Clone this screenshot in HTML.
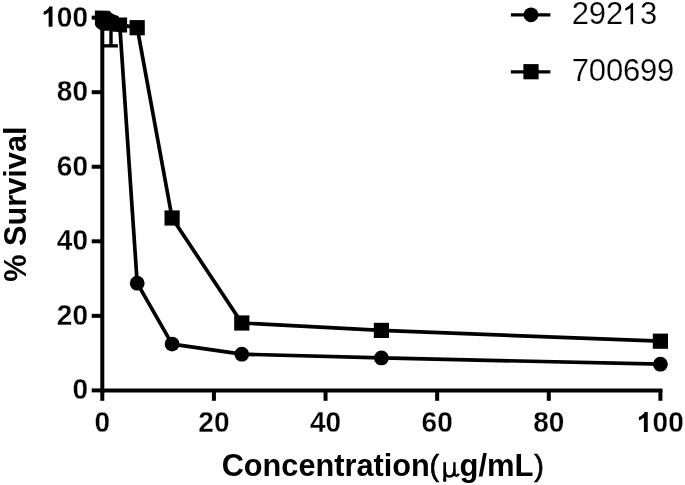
<!DOCTYPE html>
<html><head><meta charset="utf-8"><style>
html,body{margin:0;padding:0;background:#fff;}
body{width:685px;height:485px;overflow:hidden;}
svg{display:block;will-change:transform;}
text{font-family:"Liberation Sans",sans-serif;fill:#000;}
.tk{font-size:28px;font-weight:bold;stroke:#fff;stroke-width:0.25px;}
.lg{font-size:31px;stroke:#fff;stroke-width:0.2px;letter-spacing:-0.2px;}
.h{fill-opacity:0;stroke-opacity:0;}
.ti{font-size:31px;font-weight:bold;}
</style></head><body>
<svg width="685" height="485" viewBox="0 0 685 485">
<rect width="685" height="485" fill="#fff"/>
<g stroke="#000" stroke-width="4" fill="none" stroke-linecap="butt">
<line x1="102.3" y1="17.6" x2="102.3" y2="392.4"/>
<line x1="100.3" y1="390.4" x2="662.4" y2="390.4"/>
<line x1="91.7" y1="390.40" x2="102" y2="390.40"/>
<line x1="91.7" y1="315.85" x2="102" y2="315.85"/>
<line x1="91.7" y1="241.30" x2="102" y2="241.30"/>
<line x1="91.7" y1="166.75" x2="102" y2="166.75"/>
<line x1="91.7" y1="92.20" x2="102" y2="92.20"/>
<line x1="91.7" y1="17.65" x2="102" y2="17.65"/>
<line x1="102.30" y1="390" x2="102.30" y2="400.8"/>
<line x1="213.92" y1="390" x2="213.92" y2="400.8"/>
<line x1="325.54" y1="390" x2="325.54" y2="400.8"/>
<line x1="437.16" y1="390" x2="437.16" y2="400.8"/>
<line x1="548.78" y1="390" x2="548.78" y2="400.8"/>
<line x1="660.40" y1="390" x2="660.40" y2="400.8"/>
</g>
<text class="tk" transform="translate(88.00,399.40) scale(1,1.06)" text-anchor="end">0</text>
<text class="tk" transform="translate(88.00,324.85) scale(1,1.06)" text-anchor="end">20</text>
<text class="tk" transform="translate(88.00,250.30) scale(1,1.06)" text-anchor="end">40</text>
<text class="tk" transform="translate(88.00,175.75) scale(1,1.06)" text-anchor="end">60</text>
<text class="tk" transform="translate(88.00,101.20) scale(1,1.06)" text-anchor="end">80</text>
<text class="tk" transform="translate(88.00,26.65) scale(1,1.06)" text-anchor="end"><tspan class="h">1</tspan>00</text><path d="M782 0L501 0L501 1059Q347 915 138 846L138 1101Q248 1137 377 1237Q506 1337 554 1466L782 1466Z" transform="translate(41.80,26.65) scale(0.01367,-0.01367)"/>
<text class="tk" transform="translate(102.30,432.00) scale(1,1.06)" text-anchor="middle">0</text>
<text class="tk" transform="translate(213.92,432.00) scale(1,1.06)" text-anchor="middle">20</text>
<text class="tk" transform="translate(325.54,432.00) scale(1,1.06)" text-anchor="middle">40</text>
<text class="tk" transform="translate(437.16,432.00) scale(1,1.06)" text-anchor="middle">60</text>
<text class="tk" transform="translate(548.78,432.00) scale(1,1.06)" text-anchor="middle">80</text>
<text class="tk" transform="translate(660.40,432.00) scale(1,1.06)" text-anchor="middle"><tspan class="h">1</tspan>00</text><path d="M782 0L501 0L501 1059Q347 915 138 846L138 1101Q248 1137 377 1237Q506 1337 554 1466L782 1466Z" transform="translate(637.05,432.00) scale(0.01367,-0.01367)"/>
<polyline points="119.75,24.85 137.20,283.20 172.10,344.10 241.80,354.20 381.40,357.90 660.40,364.20" fill="none" stroke="#000" stroke-width="3.7" stroke-linejoin="round"/>
<polyline points="119.75,24.85 137.20,27.70 172.10,218.00 241.80,323.00 381.40,330.40 660.40,341.20" fill="none" stroke="#000" stroke-width="3.7" stroke-linejoin="round"/>
<g stroke="#000" stroke-width="3.4"><line x1="111" y1="25" x2="111" y2="45.9"/><line x1="103.6" y1="45.85" x2="117.9" y2="45.85" stroke-width="3.3"/></g>
<circle cx="137.20" cy="283.20" r="7.4"/>
<circle cx="172.10" cy="344.10" r="7.4"/>
<circle cx="241.80" cy="354.20" r="7.4"/>
<circle cx="381.40" cy="357.90" r="7.4"/>
<circle cx="660.40" cy="364.20" r="7.4"/>
<rect x="129.60" y="20.10" width="15.2" height="15.2"/>
<rect x="164.50" y="210.40" width="15.2" height="15.2"/>
<rect x="234.20" y="315.40" width="15.2" height="15.2"/>
<rect x="373.80" y="322.80" width="15.2" height="15.2"/>
<rect x="652.80" y="333.60" width="15.2" height="15.2"/>
<polygon points="94.90,10.60 109.60,10.70 111.00,12.40 113.40,14.20 116.20,15.20 118.30,16.00 119.00,17.60 127.10,17.60 127.10,32.60 119.50,32.60 118.50,32.00 111.50,31.60 110.00,30.80 103.50,30.70 100.70,30.20 97.80,28.50 95.75,26.50 94.90,24.50" fill="#000"/>
<line x1="510.9" y1="14.85" x2="550.4" y2="14.85" stroke="#000" stroke-width="3.45"/>
<circle cx="531" cy="14.8" r="7.4"/>
<line x1="510.9" y1="71.85" x2="550.4" y2="71.85" stroke="#000" stroke-width="3.45"/>
<rect x="523.40" y="64.10" width="15.2" height="15.2"/>
<text class="lg" x="571.8" y="24.2">292<tspan class="h">1</tspan>3</text>
<path d="M763 0L583 0L583 1147Q518 1085 412.5 1023Q307 961 223 930L223 1104Q374 1175 487 1276Q600 1377 647 1472L763 1472Z" transform="translate(622.10,24.20) scale(0.01440,-0.01440)"/>
<text class="lg" x="571.8" y="81.1">700699</text>
<text class="ti" x="221.7" y="475.9" style="font-size:30.7px">Concentration</text>
<text class="ti" x="429.6" y="475.7" style="font-size:29px;font-weight:normal;stroke:#000;stroke-width:0.7px">(</text>
<text class="ti" x="459.5" y="475.9">g/mL</text>
<text class="ti" x="534.2" y="475.7" style="font-size:29px;font-weight:normal;stroke:#000;stroke-width:0.7px">)</text>
<g fill="none" stroke="#000" stroke-linecap="butt"><path d="M444.7 462.2V480" stroke-width="2.7"/><path d="M444.7 469.5Q444.9 476.6 449.4 476.6Q454.4 476.6 454.4 469.5" stroke-width="2.5"/><path d="M454.4 462.2V472.5Q454.6 475.7 456.5 475.7Q457.8 475.7 458.8 473.8" stroke-width="2.4"/></g>
<ellipse cx="444.7" cy="480" rx="1.7" ry="2.1"/>
<text class="ti" transform="translate(26,281.7) rotate(-90)" style="font-size:30.7px">% Survival</text>
</svg></body></html>
